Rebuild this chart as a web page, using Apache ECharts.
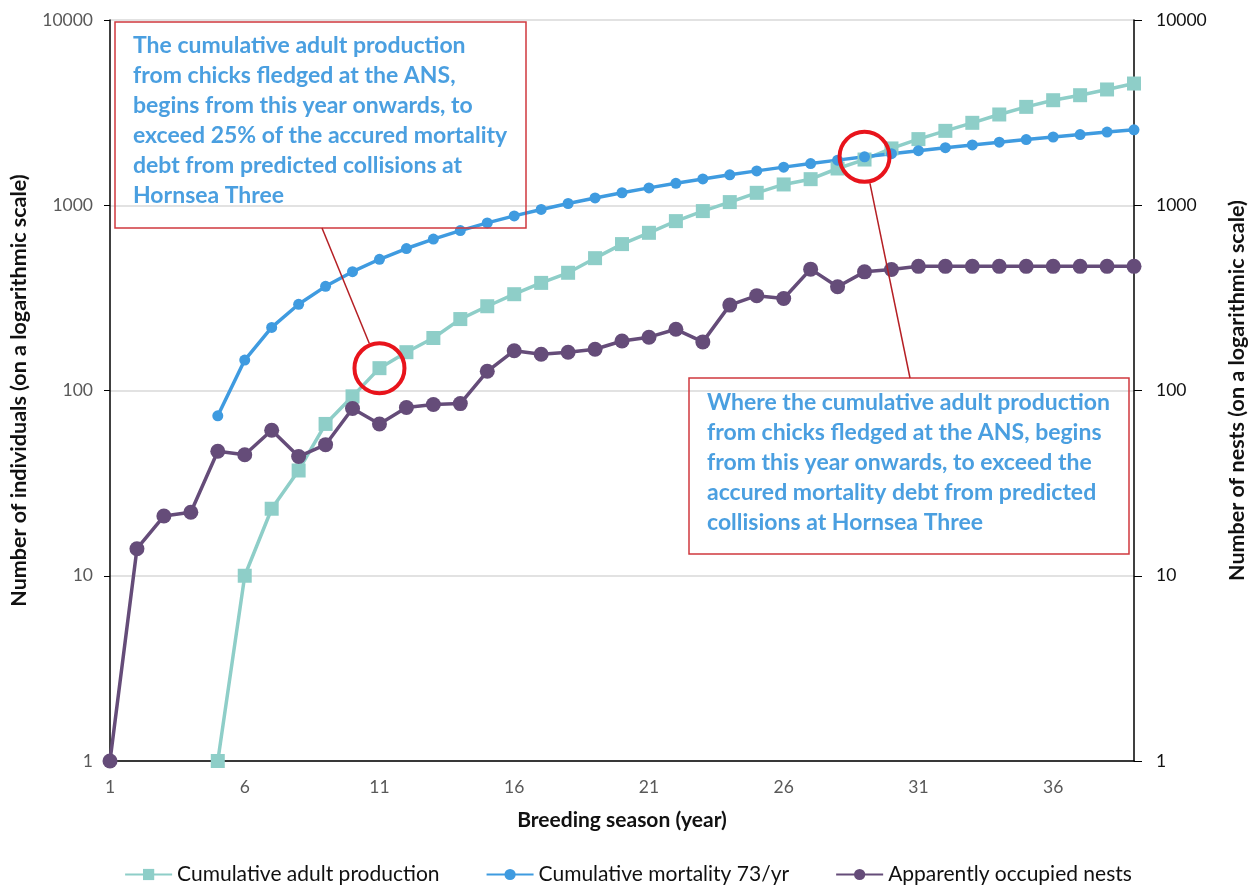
<!DOCTYPE html>
<html>
<head>
<meta charset="utf-8">
<script src="https://cdn.jsdelivr.net/npm/echarts@6/dist/echarts.min.js"></script>
<style>html,body{margin:0;padding:0;background:#fff;}#c{width:1256px;height:888px;}</style>
</head>
<body>
<div id="c"></div>
<script>
var years = ['1','2','3','4','5','6','7','8','9','10','11','12','13','14','15','16','17','18','19','20','21','22','23','24','25','26','27','28','29','30','31','32','33','34','35','36','37','38','39'];
var production = [null,null,null,null,1,10,23,37,66,93,132,161,192,243,285,331,381,432,518,617,710,821,930,1040,1167,1295,1383,1579,1765,2026,2275,2521,2786,3090,3397,3690,3927,4217,4540];
var mortality = [null,null,null,null,73,146,219,292,365,438,511,584,657,730,803,876,949,1022,1095,1168,1241,1314,1387,1460,1533,1606,1679,1752,1825,1898,1971,2044,2117,2190,2263,2336,2409,2482,2555];
var nests = [1,14,21,22,47,45,61,44,51,80,66,81,84,85,127,164,157,161,167,185,194,214,183,289,325,314,452,363,437,450,468,468,468,468,468,468,468,468,468];
var seriesNames = ['Cumulative adult production','Cumulative mortality 73/yr','Apparently occupied nests'];
var note1 = ['The cumulative adult production','from chicks fledged at the ANS,','begins from this year onwards, to','exceed 25% of the accured mortality','debt from predicted collisions at','Hornsea Three'];
var note2 = ['Where the cumulative adult production','from chicks fledged at the ANS, begins','from this year onwards, to exceed the','accured mortality debt from predicted','collisions at Hornsea Three'];

var FONT = 'Lato, "Open Sans", sans-serif';
var chart = echarts.init(document.getElementById('c'));
var plain = function (v) { return String(v); };
var option = {
  backgroundColor: '#fff',
  animation: false,
  textStyle: {fontFamily: FONT},
  grid: {left: 110, right: 121, top: 20, bottom: 127, containLabel: false},
  legend: {
    data: seriesNames,
    left: 'center', top: 859,
    itemWidth: 47, itemHeight: 14, itemGap: 46,
    textStyle: {fontSize: 21, color: '#111', fontFamily: FONT}
  },
  xAxis: {
    type: 'category', data: years, boundaryGap: false,
    axisLine: {lineStyle: {color: '#000', width: 1.5}},
    axisTick: {show: false},
    axisLabel: {interval: 4, color: '#595959', fontSize: 17.5, margin: 17, fontFamily: FONT},
    splitLine: {show: false},
    name: 'Breeding season (year)', nameLocation: 'middle', nameGap: 49,
    nameTextStyle: {fontWeight: 'bold', fontSize: 21, color: '#111', fontFamily: FONT}
  },
  yAxis: [{
    type: 'log', logBase: 10, min: 1, max: 10000, position: 'left',
    axisLine: {show: true, lineStyle: {color: '#000', width: 1.5}},
    axisTick: {show: true, length: 6, lineStyle: {color: '#000'}},
    minorTick: {show: false},
    axisLabel: {color: '#595959', fontSize: 17.5, margin: 17, fontFamily: FONT, formatter: plain},
    splitLine: {show: true, lineStyle: {color: '#d9d9d9', width: 1.5}},
    name: 'Number of individuals (on a logarithmic scale)', nameLocation: 'middle', nameGap: 80,
    nameTextStyle: {fontWeight: 'bold', fontSize: 21.5, color: '#111', fontFamily: FONT}
  }, {
    type: 'log', logBase: 10, min: 1, max: 10000, position: 'right',
    axisLine: {show: true, lineStyle: {color: '#000', width: 1.5}},
    axisTick: {show: true, length: 8, lineStyle: {color: '#000'}},
    axisLabel: {color: '#111', fontSize: 17.5, margin: 22, fontFamily: FONT, formatter: plain},
    splitLine: {show: false},
    name: 'Number of nests (on a logarithmic scale)', nameLocation: 'middle', nameGap: 92, nameRotate: 90,
    nameTextStyle: {fontWeight: 'bold', fontSize: 21.5, color: '#111', fontFamily: FONT}
  }],
  series: [{
    name: seriesNames[0], type: 'line', data: production,
    symbol: 'rect', symbolSize: 14,
    lineStyle: {color: '#8ecec8', width: 3.5},
    itemStyle: {color: '#8ecec8'},
    markPoint: {
      symbol: 'circle', symbolSize: 50, silent: true, label: {show: false},
      itemStyle: {color: 'rgba(0,0,0,0)', borderColor: '#e8141c', borderWidth: 4},
      data: [{coord: ['11', 132]}]
    }
  }, {
    name: seriesNames[1], type: 'line', data: mortality,
    symbol: 'circle', symbolSize: 11,
    lineStyle: {color: '#3f9be0', width: 3.5},
    itemStyle: {color: '#3f9be0'},
    markPoint: {
      symbol: 'circle', symbolSize: 50, silent: true, label: {show: false},
      itemStyle: {color: 'rgba(0,0,0,0)', borderColor: '#e8141c', borderWidth: 4},
      data: [{coord: ['29', 1825]}]
    }
  }, {
    name: seriesNames[2], type: 'line', data: nests, yAxisIndex: 1,
    symbol: 'circle', symbolSize: 15,
    lineStyle: {color: '#654c79', width: 3.5},
    itemStyle: {color: '#654c79'}
  }]
};
chart.setOption(option);

// annotations
var c1 = chart.convertToPixel({xAxisIndex: 0, yAxisIndex: 0}, ['11', 132]);
var c2 = chart.convertToPixel({xAxisIndex: 0, yAxisIndex: 0}, ['29', 1825]);
function edge(start, center, r) {
  var dx = start[0] - center[0], dy = start[1] - center[1];
  var l = Math.sqrt(dx * dx + dy * dy);
  return [center[0] + dx / l * r, center[1] + dy / l * r];
}
var s1 = [322, 228], s2 = [910, 378];
var e1 = edge(s1, c1, 27), e2 = edge(s2, c2, 27);
var noteStyle = {fill: '#4a9fe0', font: 'bold 23px ' + FONT, lineHeight: 30};
chart.setOption({
  graphic: [
    {type: 'rect', shape: {x: 115, y: 22, width: 411, height: 206}, style: {fill: 'none', stroke: '#d0393e', lineWidth: 1.5}, z: 100},
    {type: 'text', x: 133, y: 31, style: Object.assign({text: note1.join('\n')}, noteStyle), z: 101},
    {type: 'rect', shape: {x: 689, y: 378, width: 440, height: 176}, style: {fill: 'none', stroke: '#d0393e', lineWidth: 1.5}, z: 100},
    {type: 'text', x: 707, y: 388, style: Object.assign({text: note2.join('\n')}, noteStyle), z: 101},
    {type: 'line', shape: {x1: s1[0], y1: s1[1], x2: e1[0], y2: e1[1]}, style: {stroke: '#b51f24', lineWidth: 1.5}, z: 100},
    {type: 'line', shape: {x1: s2[0], y1: s2[1], x2: e2[0], y2: e2[1]}, style: {stroke: '#b51f24', lineWidth: 1.5}, z: 100}
  ]
});
</script>
</body>
</html>
